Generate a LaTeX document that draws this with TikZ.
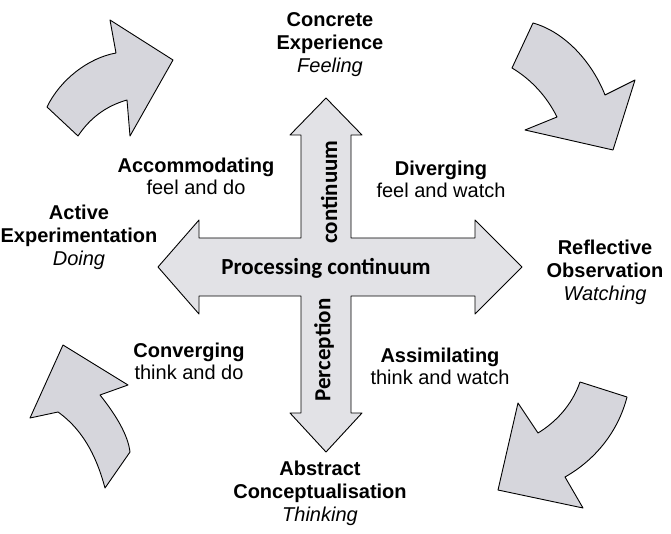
\documentclass[tikz,border=0pt]{standalone}
\usepackage{fontspec}
\setmainfont{Liberation Sans}
\newfontfamily\calib{Carlito}
\usepackage{tikz}
\usetikzlibrary{positioning, calc}
\definecolor{crossgray}{RGB}{226, 226, 230}
\definecolor{cyclegray}{RGB}{214, 214, 220}

\begin{document}
\begin{tikzpicture}[x=1pt, y=-1pt,
    pole/.style={align=center, font=\fontsize{20}{23}\selectfont},
    mode/.style={align=center, font=\fontsize{20}{22}\selectfont},
    axis/.style={font=\calib\bfseries\fontsize{23}{26}\selectfont},
    bigarrow/.style={draw=black, fill=crossgray, line width=0.9pt, line join=round},
    turn/.style={draw=black, fill=cyclegray, line width=0.9pt, line join=round}]
    \useasboundingbox (0,0) rectangle (671,534);

    % The two crossing continua
    \draw[bigarrow] (326,98) -- (362,135) -- (351,135) -- (351,238) -- (475,238)
        -- (475,220) -- (522,267) -- (475,314) -- (475,296) -- (351,296)
        -- (351,413) -- (362,413) -- (326,452) -- (290,413) -- (301,413)
        -- (301,296) -- (199,296) -- (199,314) -- (158,267) -- (199,220)
        -- (199,238) -- (301,238) -- (301,135) -- (290,135) -- cycle;

    \node[axis] (proc) at (326,268) {Processing continuum};
    \node[axis, rotate=90] (cont) at (329,192) {continuum};
    \node[axis, rotate=90] (perc) at (324,350) {Perception};

    % Curved arrows round the cycle
    \draw[turn] (47,107) .. controls (60,80) and (88,58) .. (116,53) -- (110,20)
        -- (173,60) -- (130,136) -- (127,100)
        .. controls (106,106) and (90,118) .. (78,136) -- cycle;
    \draw[turn] (533,23) .. controls (565,32) and (592,62) .. (605,95) -- (635,80)
        -- (613,150) -- (525,130) -- (557,117)
        .. controls (547,97) and (532,80) .. (512,68) -- cycle;
    \draw[turn] (580,382) -- (627,397) .. controls (618,432) and (595,460) .. (565,477)
        -- (583,508) -- (498,490) -- (518,403) -- (538,433)
        .. controls (556,422) and (572,405) .. (580,382) -- cycle;
    \draw[turn] (63,345) -- (128,385) -- (100,395)
        .. controls (116,415) and (128,435) .. (130,452) -- (105,488)
        .. controls (98,462) and (86,432) .. (58,412) -- (30,418) -- cycle;

    % Learning modes
    \node[pole] (ce) at (330,45) {\textbf{Concrete}\\\textbf{Experience}\\\textit{Feeling}};
    \node[pole] (ro) at (605,272) {\textbf{Reflective}\\\textbf{Observation}\\\textit{Watching}};
    \node[pole] (ac) at (320,493) {\textbf{Abstract}\\\textbf{Conceptualisation}\\\textit{Thinking}};
    \node[pole] (ae) at (79,237) {\textbf{Active}\\\textbf{Experimentation}\\\textit{Doing}};

    % Learning styles
    \node[mode] (acc) at (196,176) {\textbf{Accommodating}\\feel and do};
    \node[mode] (div) at (441,179) {\textbf{Diverging}\\feel and watch};
    \node[mode] (conv) at (189,361) {\textbf{Converging}\\think and do};
    \node[mode] (assim) at (440,366) {\textbf{Assimilating}\\think and watch};
\end{tikzpicture}
\end{document}
